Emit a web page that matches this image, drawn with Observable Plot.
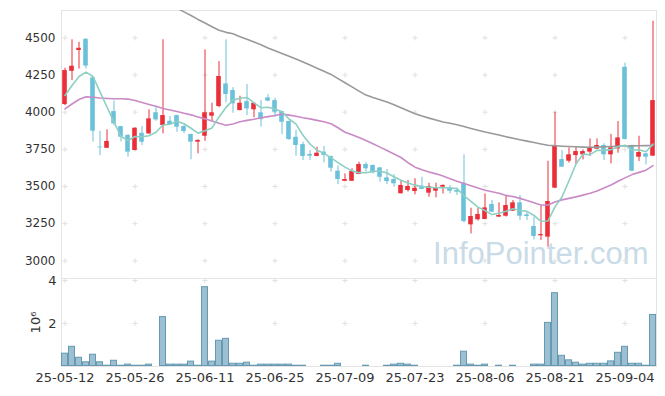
<!DOCTYPE html>
<html><head><meta charset="utf-8">
<script src="https://cdn.jsdelivr.net/npm/d3@7"></script>
<script src="https://cdn.jsdelivr.net/npm/@observablehq/plot@0.6"></script>
<style>
body{margin:0;background:#fff;}
#chart{position:relative;width:665px;height:396px;}
#chart svg{position:absolute;left:0;overflow:visible;}
</style></head><body><div id="chart"></div>
<script>
const dates = ["25-05-12","25-05-13","25-05-14","25-05-15","25-05-16","25-05-19","25-05-20","25-05-21","25-05-22","25-05-23",
"25-05-26","25-05-27","25-05-28","25-05-29","25-05-30","25-06-02","25-06-04","25-06-05","25-06-09","25-06-10",
"25-06-11","25-06-12","25-06-13","25-06-16","25-06-17","25-06-18","25-06-19","25-06-20","25-06-23","25-06-24",
"25-06-25","25-06-26","25-06-27","25-06-30","25-07-01","25-07-02","25-07-03","25-07-04","25-07-07","25-07-08",
"25-07-09","25-07-10","25-07-11","25-07-14","25-07-15","25-07-16","25-07-17","25-07-18","25-07-21","25-07-22",
"25-07-23","25-07-24","25-07-25","25-07-28","25-07-29","25-07-30","25-07-31","25-08-01","25-08-04","25-08-05",
"25-08-06","25-08-07","25-08-08","25-08-11","25-08-12","25-08-13","25-08-14","25-08-18","25-08-19","25-08-20",
"25-08-21","25-08-22","25-08-25","25-08-26","25-08-27","25-08-28","25-08-29","25-09-01","25-09-02","25-09-03",
"25-09-04","25-09-05","25-09-08","25-09-09","25-09-10"];
const opens = [4051,4275,4415,4490,4231,3765,3757,4004,3903,3843,3742,3858,3854,3996,3910,3939,3977,3903,3850,3798,
3838,3973,4038,4190,4146,4011,4071,4016,3996,4096,4078,4004,3937,3831,3782,3715,3702,3731,3702,3603,
3535,3535,3581,3648,3641,3625,3558,3547,3451,3473,3466,3502,3455,3468,3495,3489,3473,3522,3242,3276,
3278,3379,3294,3300,3334,3390,3309,3231,3168,3159,3489,3681,3670,3708,3713,3731,3751,3776,3713,3753,
4302,3776,3697,3720,3704];
const highs = [4296,4487,4470,4495,4235,3872,3881,4075,3905,3850,3895,3903,4016,4038,4487,3971,3980,3910,3852,3815,
4419,4060,4340,4487,4165,4107,4186,4062,4078,4117,4094,4006,3940,3877,3798,3742,3764,3769,3705,3637,
3585,3619,3663,3663,3646,3628,3614,3580,3540,3540,3552,3562,3522,3522,3511,3507,3489,3713,3354,3354,
3450,3406,3390,3439,3406,3439,3327,3294,3372,3670,4000,3742,3760,3769,3746,3820,3820,3787,3850,3937,
4329,3778,3838,3722,4612];
const lows = [4045,4212,4290,4290,3798,3708,3755,3910,3800,3697,3740,3776,3850,3939,3854,3915,3865,3855,3680,3720,
3803,3939,4030,4063,3993,4008,3977,3962,3899,4070,3966,3848,3810,3704,3675,3675,3700,3659,3596,3513,
3532,3533,3580,3596,3585,3529,3513,3495,3450,3462,3444,3478,3428,3424,3450,3450,3439,3255,3181,3267,
3276,3325,3292,3294,3332,3271,3271,3141,3137,3092,3487,3628,3657,3648,3679,3702,3749,3675,3652,3724,
3814,3600,3668,3645,3702];
const closes = [4280,4309,4430,4310,3872,3760,3803,3921,3831,3731,3892,3798,3955,3948,3977,3917,3899,3870,3798,3810,
3996,3996,4240,4119,4056,4060,4022,4060,3950,4074,4000,3932,3816,3776,3702,3704,3724,3709,3623,3547,
3547,3601,3648,3619,3592,3562,3533,3518,3507,3500,3488,3480,3500,3491,3507,3468,3462,3264,3298,3312,
3356,3327,3305,3372,3390,3300,3298,3164,3177,3399,3776,3630,3713,3735,3735,3758,3776,3713,3760,3827,
3816,3603,3729,3697,4078];
const volumes = [620000,940000,430000,220000,570000,220000,60000,290000,60000,110000,
60000,60000,110000,20000,2320000,110000,110000,110000,250000,60000,
3710000,250000,1220000,1310000,150000,150000,200000,60000,110000,110000,
110000,110000,110000,60000,60000,20000,20000,60000,60000,150000,
20000,20000,20000,60000,20000,20000,60000,110000,150000,110000,
60000,20000,20000,20000,5000,20000,60000,710000,110000,60000,
110000,20000,60000,20000,60000,20000,20000,110000,110000,2050000,
3430000,520000,310000,200000,110000,150000,150000,150000,260000,660000,
940000,150000,150000,60000,2420000];
const ma5 = [4112,4179,4240,4269,4240,4136,4035,3933,3837,3809,3836,3835,3841,3865,3914,3919,3939,3922,3892,3859,
3875,3894,3968,4032,4081,4094,4099,4063,4030,4033,4021,4003,3954,3920,3845,3786,3744,3723,3692,3661,
3630,3605,3593,3592,3601,3604,3591,3565,3542,3524,3509,3499,3495,3492,3493,3489,3486,3438,3400,3361,
3338,3311,3320,3334,3350,3339,3333,3305,3266,3268,3363,3429,3539,3651,3718,3714,3743,3743,3748,3767,
3778,3744,3747,3734,3785];
const ma20 = [4022,4055,4085,4103,4100,4095,4092,4090,4090,4088,4078,4065,4052,4040,4025,4015,4004,3993,3982,3968,
3955,3940,3925,3912,3920,3935,3945,3952,3962,3970,3978,3988,3980,3972,3962,3955,3945,3935,3922,3895,
3865,3848,3830,3810,3787,3765,3742,3718,3695,3660,3630,3612,3598,3585,3570,3552,3535,3520,3505,3490,
3475,3465,3455,3440,3432,3420,3405,3390,3375,3375,3395,3410,3420,3430,3442,3455,3470,3490,3510,3535,
3558,3580,3595,3610,3640];
const ma60 = [null,null,null,null,null,null,null,null,null,null,null,null,null,null,null,null,4700,4675,4650,4624,
4600,4575,4551,4537,4527,4508,4490,4472,4453,4432,4413,4394,4376,4357,4338,4317,4296,4275,4254,4226,
4198,4170,4142,4115,4098,4083,4068,4050,4030,4010,3990,3974,3960,3947,3934,3925,3915,3903,3890,3878,
3866,3857,3846,3835,3824,3814,3805,3796,3786,3777,3774,3771,3769,3767,3765,3764,3765,3767,3769,3771,
3772,3773,3774,3775,3776];
const xTickDates = ["25-05-12","25-05-26","25-06-11","25-06-25","25-07-09","25-07-23","25-08-06","25-08-21","25-09-04"];
const priceTicks = [3000,3250,3500,3750,4000,4250,4500];
const volumeTicks = [2000000,4000000];

const rows = dates.map((d, i) => ({date: d, open: opens[i], high: highs[i], low: lows[i], close: closes[i],
  volume: volumes[i], ma5: ma5[i], ma20: ma20[i], ma60: ma60[i]}));
const up = rows.filter(d => d.close >= d.open);
const down = rows.filter(d => d.close < d.open);
const gridPrice = xTickDates.flatMap(d => priceTicks.map(v => ({date: d, v})));
const gridVol = xTickDates.flatMap(d => volumeTicks.map(v => ({date: d, v})));

const RED = "#ea2f38", BLUE = "#6bc1d9";
const font = {fontFamily: "DejaVu Sans, sans-serif", color: "#333", background: "transparent", overflow: "visible"};

const topPlot = Plot.plot({
  width: 665, height: 278, marginTop: 10, marginBottom: 0, marginLeft: 61, marginRight: 9,
  style: {...font, fontSize: "12px"},
  x: {type: "band", domain: dates, padding: 0, axis: null},
  y: {domain: [2881, 4684], axis: null},
  marks: [
    Plot.text(["InfoPointer.com"], {frameAnchor: "bottom-right", lineAnchor: "middle", dx: -8, dy: -24,
      fontSize: 31, fill: "#c9dbe7", fontFamily: "Liberation Sans, Arial, sans-serif"}),
    Plot.dot(gridPrice, {x: "date", y: "v", symbol: "plus", r: 1.8, stroke: "#e0e0e0", strokeWidth: 1}),
    Plot.frame({stroke: "#e4e4e4"}),
    Plot.axisY(priceTicks, {tickSize: 0, tickPadding: 6, fontSize: 12, fill: "#333", tickFormat: d => String(d), label: null}),
    Plot.ruleX(up, {x: "date", y1: "low", y2: "high", stroke: RED, strokeWidth: 1}),
    Plot.ruleX(down, {x: "date", y1: "low", y2: "high", stroke: BLUE, strokeWidth: 1}),
    Plot.barY(up, {x: "date", y1: "open", y2: "close", fill: RED, insetLeft: 1.2, insetRight: 1.2}),
    Plot.barY(down, {x: "date", y1: "open", y2: "close", fill: BLUE, insetLeft: 1.2, insetRight: 1.2}),
    Plot.lineY(rows, {x: "date", y: "ma60", stroke: "#999", strokeWidth: 1.6, clip: true}),
    Plot.lineY(rows, {x: "date", y: "ma20", stroke: "#c98ac6", strokeWidth: 1.6}),
    Plot.lineY(rows, {x: "date", y: "ma5", stroke: "#8ccfc3", strokeWidth: 1.6})
  ]
});
topPlot.style.top = "0px";

const volPlot = Plot.plot({
  width: 665, height: 118, marginTop: 0, marginBottom: 30, marginLeft: 61, marginRight: 9,
  style: {...font, fontSize: "13px"},
  x: {type: "band", domain: dates, padding: 0, axis: null},
  y: {domain: [0, 4090000], axis: null},
  marks: [
    Plot.dot(gridVol, {x: "date", y: "v", symbol: "plus", r: 1.8, stroke: "#e0e0e0", strokeWidth: 1}),
    Plot.frame({stroke: "#e4e4e4"}),
    Plot.barY(rows, {x: "date", y: "volume", fill: "#9cc0d1", stroke: "#659ab2", strokeWidth: 1, inset: 0.5}),
    Plot.axisY(volumeTicks, {tickSize: 0, tickPadding: 5, fontSize: 13, fill: "#333",
      tickFormat: d => String(d / 1000000), label: "10⁶", labelAnchor: "center", labelOffset: 31, labelArrow: "none"}),
    Plot.axisX(xTickDates, {tickSize: 0, tickPadding: 6, fontSize: 13, fill: "#333", label: null})
  ]
});
volPlot.style.top = "278px";

const chart = document.getElementById("chart");
chart.appendChild(topPlot);
chart.appendChild(volPlot);
</script></body></html>
